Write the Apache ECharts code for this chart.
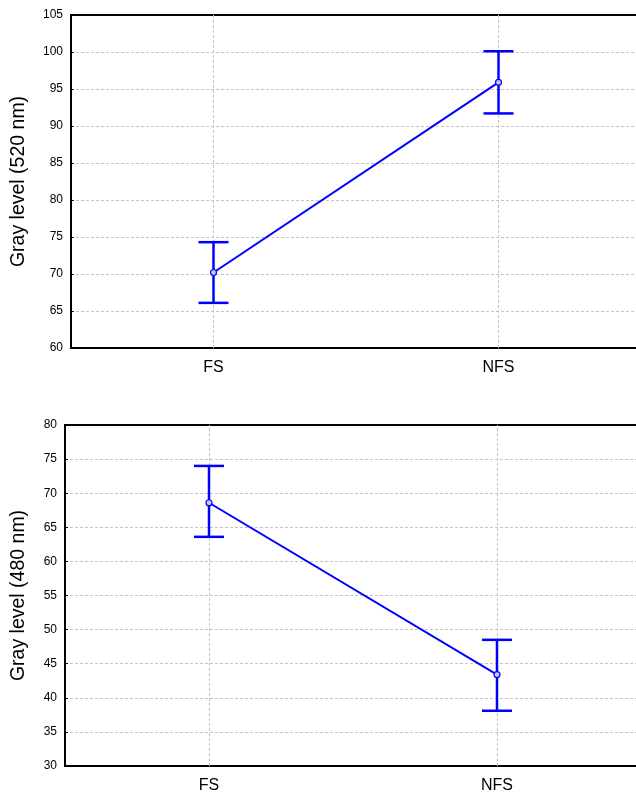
<!DOCTYPE html>
<html>
<head>
<meta charset="utf-8">
<script src="https://cdn.jsdelivr.net/npm/echarts@6/dist/echarts.min.js"></script>
<style>html,body{margin:0;padding:0;background:#fff}#c{width:636px;height:798px}</style>
</head>
<body>
<div id="c"></div>
<script>
var categories = ['FS', 'NFS'];
var mean520 = [70.2, 95.9];
var low520 = [66.1, 91.7];
var high520 = [74.3, 100.1];
var mean480 = [68.6, 43.4];
var low480 = [63.6, 38.1];
var high480 = [74.0, 48.5];
var yTicks520 = {min: 60, max: 105, interval: 5};
var yTicks480 = {min: 30, max: 80, interval: 5};

var FONT = 'Liberation Sans, Arial, sans-serif';
var BLUE = '#0000ff';
var GRID_GRAY = '#c4c4c4';

function errData(low, high) {
  return categories.map(function (c, i) { return [i, low[i], high[i]]; });
}
function errRender(params, api) {
  var x = api.value(0);
  var lo = api.coord([x, api.value(1)]);
  var hi = api.coord([x, api.value(2)]);
  var w = 15;
  var st = {stroke: BLUE, lineWidth: 2.5};
  return {
    type: 'group',
    children: [
      {type: 'line', shape: {x1: lo[0], y1: lo[1], x2: hi[0], y2: hi[1]}, style: st},
      {type: 'line', shape: {x1: lo[0] - w, y1: lo[1], x2: lo[0] + w, y2: lo[1]}, style: st},
      {type: 'line', shape: {x1: hi[0] - w, y1: hi[1], x2: hi[0] + w, y2: hi[1]}, style: st}
    ]
  };
}

function xAxis(idx) {
  return {
    type: 'category', gridIndex: idx, data: categories,
    axisLine: {show: false}, axisTick: {show: false},
    axisLabel: {color: '#000', fontSize: 16, fontFamily: FONT, margin: 12},
    splitLine: {show: false}
  };
}
function yAxis(idx, t, name, gap) {
  return {
    type: 'value', gridIndex: idx, min: t.min, max: t.max, interval: t.interval,
    name: name, nameLocation: 'middle', nameRotate: 90, nameGap: gap,
    nameTextStyle: {color: '#000', fontSize: 19.5, fontFamily: FONT},
    axisLine: {show: false},
    axisTick: {show: true, inside: true, length: 3, lineStyle: {color: '#000'}},
    axisLabel: {color: '#000', fontSize: 12, fontFamily: FONT, margin: 8},
    splitLine: {show: true, showMinLine: false, showMaxLine: false,
      lineStyle: {color: GRID_GRAY, type: [3, 2], width: 1}}
  };
}
function vLineSeries(idx) {
  return {
    type: 'line', xAxisIndex: idx, yAxisIndex: idx, data: [], z: 1, silent: true,
    markLine: {
      silent: true, symbol: 'none', label: {show: false}, animation: false, z: 1,
      lineStyle: {color: GRID_GRAY, type: [3, 2], width: 1},
      data: categories.map(function (c) { return {xAxis: c}; })
    }
  };
}
function lineSeries(idx, mean) {
  return {
    type: 'line', xAxisIndex: idx, yAxisIndex: idx, data: mean,
    symbol: 'circle', symbolSize: 6, z: 5,
    lineStyle: {color: BLUE, width: 2},
    itemStyle: {color: '#c8c8e8', borderColor: BLUE, borderWidth: 1.2}
  };
}

var chart = echarts.init(document.getElementById('c'), null, {renderer: 'canvas'});
chart.setOption({
  animation: false,
  backgroundColor: '#fff',
  grid: [
    {left: 71, width: 570, top: 15, height: 333, outerBoundsMode: 'none', containLabel: false,
      show: true, borderColor: '#000', borderWidth: 2, backgroundColor: 'transparent'},
    {left: 65, width: 576, top: 425, height: 341, outerBoundsMode: 'none', containLabel: false,
      show: true, borderColor: '#000', borderWidth: 2, backgroundColor: 'transparent'}
  ],
  xAxis: [xAxis(0), xAxis(1)],
  yAxis: [yAxis(0, yTicks520, 'Gray level (520 nm)', 42), yAxis(1, yTicks480, 'Gray level (480 nm)', 36)],
  series: [
    vLineSeries(0),
    {type: 'custom', xAxisIndex: 0, yAxisIndex: 0, data: errData(low520, high520), renderItem: errRender, z: 4},
    lineSeries(0, mean520),
    vLineSeries(1),
    {type: 'custom', xAxisIndex: 1, yAxisIndex: 1, data: errData(low480, high480), renderItem: errRender, z: 4},
    lineSeries(1, mean480)
  ]
});
</script>
</body>
</html>
